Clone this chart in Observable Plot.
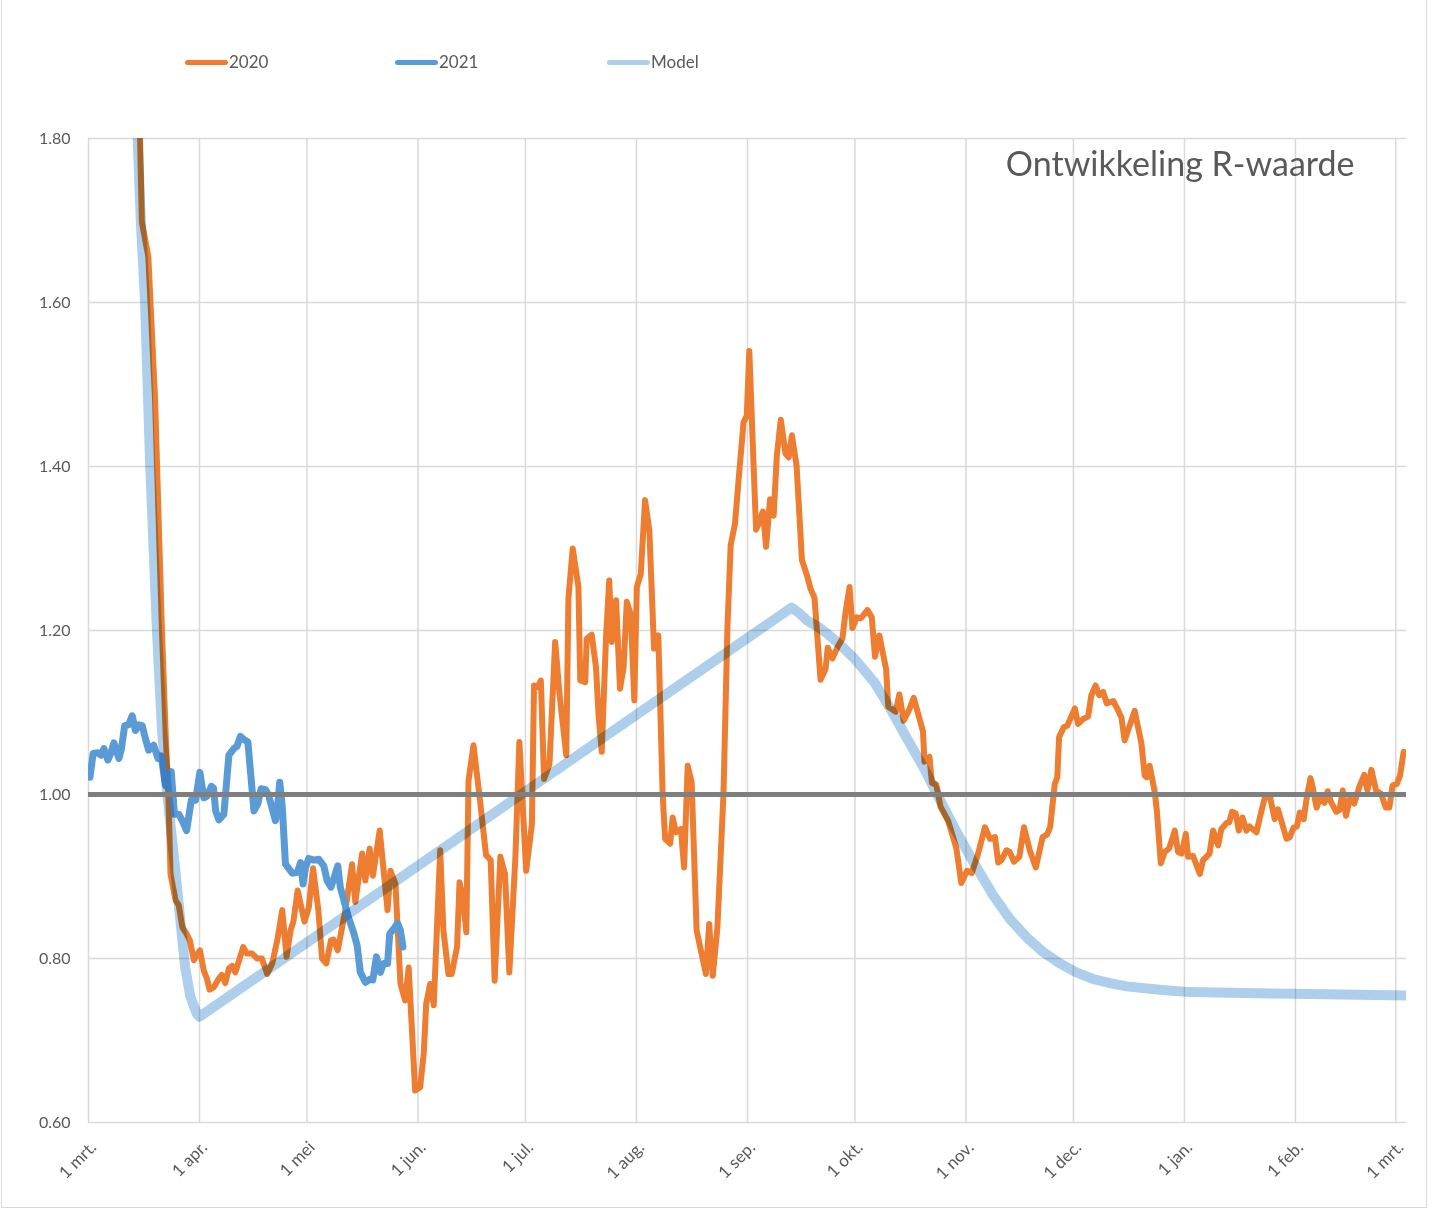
<!DOCTYPE html>
<html><head><meta charset="utf-8">
<script src="https://cdn.jsdelivr.net/npm/d3@7"></script>
<script src="https://cdn.jsdelivr.net/npm/@observablehq/plot@0.6"></script>
<style>
body{margin:0;background:#fff;font-family:Lato,"Open Sans",sans-serif;}
#wrap{position:relative;width:1435px;height:1210px;overflow:hidden;background:#fff;}
#chart{position:absolute;left:0;top:0;}
#frame{position:absolute;left:1px;top:-2px;width:1426px;height:1210px;border:1.5px solid #d9d9d9;box-sizing:border-box;pointer-events:none;}
.item{position:absolute;top:51px;display:flex;align-items:center;font-size:17px;color:#595959;line-height:22px;}
.sw{width:43px;height:5px;border-radius:3px;margin-right:1px;}
</style></head>
<body><div id="wrap"><div id="chart"></div><div id="legend"></div><div id="frame"></div></div>
<script>
// ---- data (day offset from 1 March 2020, R value) ----
const seriesNames = ["2020", "2021", "Model"];
const seriesColors = ["#ED7D31", "#5B9BD5", "#aecfeb"];
const yTicks = [0.6, 0.8, 1.0, 1.2, 1.4, 1.6, 1.8];
const xTickLabels = ["1 mrt.","1 apr.","1 mei","1 jun.","1 jul.","1 aug.","1 sep.","1 okt.","1 nov.","1 dec.","1 jan.","1 feb.","1 mrt."];
const titleText = "Ontwikkeling R-waarde";

const r2020 = [[13.4,2.00],[14.9,1.698],[16.7,1.656],[18.6,1.481],[20.5,1.201],[21.6,1.068],[22.3,0.999],[22.9,0.903],[24.3,0.871],[25.2,0.865],[26.2,0.838],[27.4,0.830],[28.3,0.822],[29.4,0.798],[31.1,0.810],[32.2,0.785],[33.1,0.775],[33.8,0.762],[35.0,0.765],[36.3,0.775],[37.2,0.780],[38.2,0.770],[39.2,0.788],[40.1,0.791],[41.0,0.783],[43.2,0.814],[44.2,0.806],[45.7,0.806],[47.1,0.800],[48.4,0.800],[49.9,0.781],[51.3,0.794],[52.7,0.822],[54.1,0.859],[55.3,0.802],[56.4,0.834],[57.2,0.845],[58.4,0.883],[60.3,0.845],[61.5,0.862],[62.7,0.910],[64.2,0.858],[65.2,0.800],[66.4,0.794],[67.7,0.822],[68.4,0.823],[69.6,0.810],[70.8,0.838],[71.7,0.858],[73.6,0.915],[74.5,0.869],[76.4,0.928],[77.3,0.895],[78.5,0.934],[79.4,0.901],[81.3,0.956],[83.5,0.859],[84.3,0.907],[85.7,0.891],[87.1,0.769],[88.4,0.749],[89.4,0.789],[91.2,0.639],[92.6,0.643],[93.6,0.684],[94.3,0.745],[95.4,0.769],[96.4,0.743],[98.2,0.932],[99.1,0.834],[100.5,0.781],[101.4,0.781],[102.9,0.814],[103.6,0.893],[104.5,0.875],[105.5,0.832],[106.1,1.017],[107.5,1.060],[109.4,0.989],[111.0,0.926],[112.3,0.920],[113.4,0.773],[115.0,0.924],[116.3,0.903],[117.5,0.783],[119.2,0.924],[120.3,1.064],[122.2,0.907],[123.8,0.964],[124.4,1.133],[125.4,1.131],[126.3,1.139],[127.2,1.019],[128.7,1.037],[130.3,1.186],[131.5,1.123],[133.4,1.048],[134.0,1.239],[135.2,1.300],[136.8,1.253],[137.3,1.139],[138.7,1.137],[139.1,1.190],[140.5,1.195],[141.7,1.155],[142.4,1.098],[143.3,1.052],[144.5,1.192],[145.4,1.261],[146.1,1.186],[147.3,1.237],[148.4,1.129],[149.4,1.155],[150.3,1.235],[151.4,1.220],[152.4,1.115],[153.1,1.253],[154.2,1.269],[155.4,1.359],[156.6,1.322],[157.9,1.178],[159.1,1.194],[160.3,1.001],[161.0,0.946],[162.4,0.940],[163.1,0.972],[164.0,0.954],[165.4,0.958],[166.3,0.911],[167.3,1.035],[168.4,1.015],[169.8,0.834],[172.4,0.781],[173.3,0.842],[174.3,0.779],[175.6,0.838],[177.3,1.001],[178.4,1.204],[179.3,1.304],[180.5,1.330],[181.5,1.383],[182.9,1.454],[183.8,1.462],[184.5,1.541],[185.7,1.401],[186.4,1.323],[186.9,1.328],[188.3,1.345],[189.2,1.302],[190.3,1.360],[191.3,1.340],[192.2,1.414],[193.3,1.457],[194.6,1.416],[195.5,1.411],[196.4,1.438],[197.7,1.401],[199.2,1.286],[200.7,1.266],[201.6,1.251],[202.7,1.240],[204.4,1.140],[205.8,1.153],[206.4,1.179],[207.7,1.166],[209.3,1.181],[210.5,1.190],[211.4,1.223],[212.5,1.253],[213.3,1.203],[214.5,1.216],[215.7,1.215],[217.5,1.225],[218.7,1.216],[219.6,1.168],[220.8,1.194],[222.7,1.153],[223.3,1.107],[225.4,1.101],[226.4,1.122],[227.6,1.090],[229.2,1.104],[230.4,1.118],[233.0,1.077],[233.4,1.040],[234.8,1.046],[235.5,1.014],[236.7,1.012],[237.9,0.985],[240.0,0.968],[242.3,0.935],[243.7,0.892],[245.3,0.907],[246.6,0.904],[248.4,0.928],[250.3,0.960],[251.7,0.946],[253.1,0.948],[254.0,0.917],[254.9,0.920],[256.3,0.932],[257.2,0.930],[258.4,0.918],[259.9,0.924],[261.2,0.960],[262.8,0.932],[264.5,0.911],[266.4,0.948],[267.6,0.951],[268.5,0.960],[269.8,1.013],[270.5,1.021],[271.0,1.070],[272.3,1.082],[273.3,1.084],[275.4,1.105],[276.3,1.086],[277.7,1.092],[279.1,1.095],[280.0,1.121],[281.2,1.133],[282.2,1.121],[283.3,1.125],[284.3,1.111],[286.1,1.114],[287.2,1.105],[288.4,1.094],[289.3,1.066],[290.7,1.084],[292.1,1.102],[294.0,1.062],[294.9,1.023],[295.5,1.021],[296.3,1.035],[297.7,1.003],[298.3,0.980],[299.4,0.916],[300.5,0.930],[301.7,0.934],[303.3,0.956],[304.2,0.930],[305.2,0.928],[306.4,0.952],[307.0,0.924],[308.4,0.925],[310.3,0.903],[311.2,0.920],[313.0,0.928],[314.0,0.956],[315.4,0.938],[316.3,0.958],[317.7,0.965],[318.5,0.966],[319.3,0.979],[320.3,0.977],[321.2,0.956],[322.2,0.972],[323.3,0.956],[324.2,0.961],[326.1,0.954],[327.5,0.980],[328.5,0.997],[329.9,0.997],[331.2,0.970],[332.1,0.982],[334.5,0.946],[335.4,0.948],[336.5,0.960],[337.4,0.961],[338.2,0.978],[339.3,0.970],[340.1,0.995],[341.2,1.020],[341.8,1.009],[342.9,0.984],[343.9,0.996],[345.1,0.990],[346.0,1.004],[346.9,0.991],[348.4,0.979],[349.3,0.981],[350.2,1.005],[351.1,0.974],[352.2,0.995],[353.4,0.989],[354.8,1.009],[356.2,1.024],[357.1,1.005],[358.2,1.030],[359.5,1.005],[360.9,1.001],[362.2,0.984],[363.2,0.984],[364.1,1.011],[365.3,1.013],[366.2,1.023],[367.2,1.052]];

const r2021 = [[0.4,1.021],[1.3,1.050],[2.6,1.051],[3.5,1.048],[4.3,1.056],[5.4,1.042],[6.2,1.050],[7.1,1.063],[8.5,1.044],[9.2,1.056],[10.1,1.084],[11.2,1.085],[12.2,1.096],[13.1,1.078],[14.0,1.085],[15.0,1.084],[15.9,1.068],[16.8,1.054],[18.2,1.060],[19.4,1.044],[20.3,1.047],[21.5,1.011],[22.1,1.009],[23.1,1.028],[24.0,0.976],[25.2,0.976],[26.2,0.968],[27.4,0.956],[28.7,0.993],[29.9,0.993],[31.1,1.027],[32.2,0.996],[33.1,0.998],[34.3,1.010],[34.9,1.008],[35.5,0.980],[36.4,0.969],[37.8,0.976],[39.2,1.048],[40.6,1.056],[41.5,1.059],[42.4,1.071],[43.4,1.067],[44.5,1.064],[46.2,0.980],[47.3,0.989],[48.2,1.007],[49.4,1.006],[50.3,0.999],[52.2,0.968],[52.7,0.982],[53.4,1.015],[54.1,0.985],[55.0,0.915],[56.9,0.904],[58.3,0.905],[59.2,0.917],[59.9,0.891],[60.6,0.911],[61.5,0.922],[62.9,0.920],[64.3,0.921],[65.7,0.913],[66.6,0.895],[67.7,0.887],[68.6,0.899],[69.6,0.913],[70.3,0.887],[72.6,0.850],[74.0,0.832],[75.0,0.816],[75.9,0.783],[77.3,0.771],[78.7,0.775],[79.4,0.774],[80.4,0.802],[81.5,0.783],[82.4,0.794],[83.5,0.794],[84.1,0.830],[85.2,0.836],[86.3,0.843],[87.1,0.834],[87.8,0.814]];

const rModel = [[12.6,2.10],[13.8,1.79],[14.6,1.70],[15.8,1.60],[17.2,1.404],[19.1,1.201],[20.5,1.08],[22.0,1.00],[24.4,0.901],[26.0,0.831],[27.0,0.789],[28.4,0.754],[30.2,0.733],[31.0,0.729],[196.3,1.228],[198.5,1.221],[200.7,1.212],[203.5,1.205],[206.3,1.196],[210.0,1.182],[213.8,1.166],[219.4,1.137],[224.1,1.103],[228.7,1.067],[233.4,1.031],[237.2,0.998],[241.8,0.959],[246.5,0.922],[252.6,0.877],[257.3,0.848],[261.9,0.826],[266.5,0.808],[271.2,0.794],[275.8,0.783],[280.5,0.775],[285.2,0.770],[289.8,0.766],[299.1,0.762],[307.5,0.759],[336.7,0.757],[368.0,0.755]];

// ---- build ----
const start = Date.UTC(2020, 2, 1);
const toDate = d => new Date(start + d * 864e5);
const rows = arr => arr.map(([d, r]) => ({date: toDate(d), r}));
const monthTicks = d3.utcMonth.range(new Date(start), new Date(Date.UTC(2021, 2, 2)));

const chart = Plot.plot({
  width: 1435, height: 1210,
  marginLeft: 88, marginRight: 29, marginTop: 138, marginBottom: 88,
  x: {type: "utc", domain: [new Date(start), toDate(368)], axis: null},
  y: {domain: [0.6, 1.8], axis: null},
  style: {fontFamily: "Lato, 'Open Sans', sans-serif", background: "transparent", overflow: "visible"},
  marks: [
    Plot.ruleX(monthTicks, {x: d => d, stroke: "#d9d9d9", strokeWidth: 1.5}),
    Plot.ruleY(yTicks, {y: d => d, stroke: "#d9d9d9", strokeWidth: 1.5}),
    Plot.text(monthTicks, {x: d => d, text: (d, i) => xTickLabels[i], frameAnchor: "bottom", rotate: -45, textAnchor: "end", lineAnchor: "middle", dx: 5, dy: 22, fontSize: 17, fill: "#595959"}),
    Plot.text(yTicks, {y: d => d, text: d => d.toFixed(2), frameAnchor: "left", textAnchor: "end", dx: -18, fontSize: 16, fill: "#595959"}),
    Plot.line(rows(r2020), {x: "date", y: "r", stroke: seriesColors[0], strokeWidth: 6, strokeLinejoin: "round", strokeLinecap: "round", clip: true}),
    Plot.line(rows(r2021), {x: "date", y: "r", stroke: seriesColors[1], strokeWidth: 7, strokeLinejoin: "round", strokeLinecap: "round", clip: true}),
    Plot.line(rows(rModel), {x: "date", y: "r", stroke: seriesColors[2], strokeWidth: 10, strokeLinejoin: "round", clip: true}),
    Plot.ruleY([1], {y: d => d, stroke: "#7f7f7f", strokeWidth: 5}),
    Plot.text([titleText], {text: d => d, frameAnchor: "top-right", textAnchor: "end", lineAnchor: "middle", dx: -52, dy: 27, fontSize: 34, fill: "#595959"})
  ]
});
// model line is blended (multiply) over the data series, as in the original
const lineGroups = chart.querySelectorAll('g[aria-label="line"]');
if (lineGroups.length >= 3) lineGroups[2].style.mixBlendMode = "multiply";
document.getElementById("chart").appendChild(chart);

// legend overlaid in the top margin
const legendLeft = [185, 395, 607];
const legend = document.getElementById("legend");
seriesNames.forEach((name, i) => {
  const it = document.createElement("div");
  it.className = "item";
  it.style.left = legendLeft[i] + "px";
  it.innerHTML = `<span class="sw" style="background:${seriesColors[i]}"></span><span>${name}</span>`;
  legend.appendChild(it);
});
</script>
</body></html>
